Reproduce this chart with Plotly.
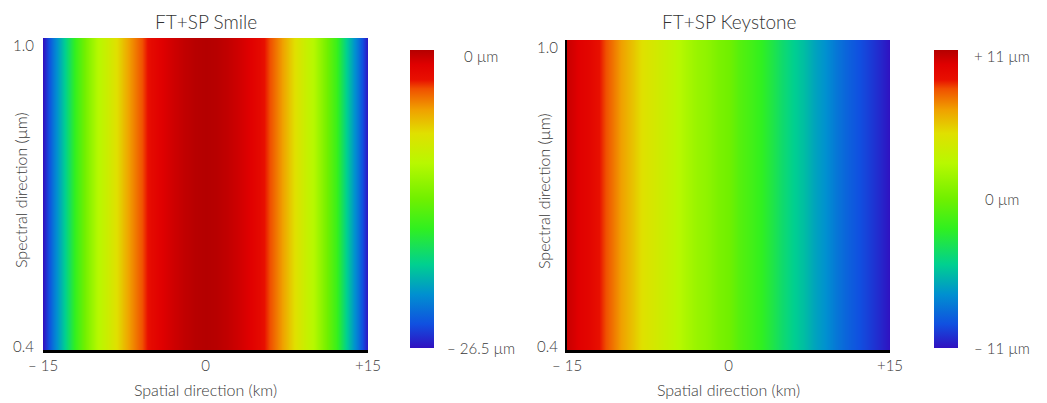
import plotly.graph_objects as go

# ---- data ----
spatial_km = [-15, -14, -13, -12, -11, -10, -9, -8, -7, -6, -5, -4, -3, -2, -1, 0,
              1, 2, 3, 4, 5, 6, 7, 8, 9, 10, 11, 12, 13, 14, 15]
spectral_um = [0.4, 1.0]

smile_um = [-26.5, -22.5, -19.0, -15.4, -12.8, -10.3, -8.7, -7.0, -5.1, -3.6, -2.1, -1.3,
            -0.8, -0.4, -0.1, 0.0, -0.1, -0.4, -0.8, -1.3, -2.1, -3.6, -5.1, -7.0, -8.7,
            -10.3, -12.8, -15.4, -19.0, -22.5, -26.5]
keystone_um = [10.5, 9.9, 9.5, 8.8, 7.7, 6.6, 5.7, 4.8, 4.2, 3.5, 2.9, 2.2, 1.5, 1.1, 0.4,
               0.0, -0.9, -1.5, -2.2, -3.1, -4.0, -4.8, -5.5, -6.4, -7.0, -7.9, -8.6, -9.2,
               -9.7, -10.3, -11.0]

smile_range = [-26.5, 0.0]
smile_ticks = [0.0, -26.5]
smile_ticktext = ["0 µm", "– 26.5 µm"]
key_range = [-11.0, 11.0]
key_ticks = [11.0, 0.0, -11.0]
key_ticktext = ["+ 11 µm", "0 µm", "– 11 µm"]

x_ticks = [-15, 0, 15]
x_ticktext = ["– 15", "0", "+15"]
y_ticks = [0.4, 1.0]
y_ticktext = ["0.4", "1.0"]

titles = ["FT+SP Smile", "FT+SP Keystone"]
x_title = "Spatial direction (km)"
y_title = "Spectral direction (µm)"

# ---- style ----
W, H = 1047, 403
FONT = "Lato"
WEIGHT = 300
TXT = "#3a3a3a"
colorscale = [
    [0.00, "#3010c0"], [0.08, "#1050e0"], [0.18, "#0090d0"], [0.28, "#00d090"],
    [0.40, "#30f020"], [0.50, "#70f000"], [0.62, "#b8f800"], [0.72, "#e0e000"],
    [0.80, "#f0a000"], [0.87, "#f05000"], [0.90, "#e81000"], [0.95, "#e00000"],
    [1.00, "#b40000"],
]

def px_x(p):
    return p / W

def px_y(p):
    return 1 - p / H

# plot area pixel boxes (x0, x1, ytop, ybottom)
left_box = (43, 368, 38, 350)
right_box = (567, 890, 40, 350)
cb_left_x, cb_right_x = 410, 934
cb_top, cb_bot = 50, 348

fig = go.Figure()

def add_panel(idx, z_profile, zr, cbx):
    xa = "x" if idx == 1 else "x2"
    ya = "y" if idx == 1 else "y2"
    fig.add_trace(go.Heatmap(
        x=spatial_km, y=spectral_um, z=[z_profile, z_profile],
        zmin=zr[0], zmax=zr[1], colorscale=colorscale, zsmooth="best",
        xaxis=xa, yaxis=ya, hoverinfo="skip",
        colorbar=dict(
            x=px_x(cbx), xanchor="left", xref="paper", xpad=0, ypad=0,
            y=px_y((cb_top + cb_bot) / 2), yanchor="middle",
            lenmode="pixels", len=cb_bot - cb_top,
            thickness=24, thicknessmode="pixels",
            outlinewidth=0, showticklabels=False, ticks="",
        ),
    ))

add_panel(1, smile_um, smile_range, cb_left_x)
add_panel(2, keystone_um, key_range, cb_right_x)

tickfont = dict(family=FONT, size=15, color=TXT, weight=WEIGHT)
titlefont = dict(family=FONT, size=16, color=TXT, weight=WEIGHT)

def set_axes(idx, box, yline):
    x0, x1, y0, y1 = box
    xk = "xaxis" if idx == 1 else "xaxis2"
    yk = "yaxis" if idx == 1 else "yaxis2"
    anchor_x = "y" if idx == 1 else "y2"
    anchor_y = "x" if idx == 1 else "x2"
    fig.update_layout(**{
        xk: dict(domain=[px_x(x0), px_x(x1)], anchor=anchor_x,
                 range=[-15, 15], tickvals=x_ticks, ticktext=x_ticktext,
                 tickfont=tickfont, ticks="", showgrid=False, zeroline=False,
                 showline=True, linecolor="black", linewidth=2.5,
                 title=dict(text=x_title, standoff=13, font=titlefont)),
        yk: dict(domain=[px_y(y1), px_y(y0)], anchor=anchor_y,
                 range=[0.4, 1.0], tickvals=y_ticks, showticklabels=False,
                 ticks="", showgrid=False, zeroline=False,
                 showline=yline, linecolor="black", linewidth=1.5),
    })

set_axes(1, left_box, False)
set_axes(2, right_box, True)

annotations = []
for i, (t, box) in enumerate(zip(titles, [left_box, right_box])):
    yref = "y" if i == 0 else "y2"
    # subplot title
    annotations.append(dict(
        text=t, x=px_x((box[0] + box[1]) / 2), y=px_y(22), xref="paper", yref="paper",
        xanchor="center", yanchor="middle", showarrow=False,
        font=dict(family=FONT, size=19, color="#333333", weight=WEIGHT)))
    # y tick labels (inset from the plot corners)
    for v, tx in zip(y_ticks, y_ticktext):
        annotations.append(dict(
            text=tx, x=px_x(box[0] - 7), y=v, xref="paper", yref=yref,
            xanchor="right", yanchor="middle", yshift=(4 if v == min(y_ticks) else -7),
            showarrow=False, font=tickfont))
    # y axis title
    annotations.append(dict(
        text=y_title, x=px_x(box[0] - 23), y=px_y((box[2] + box[3]) / 2 - 4),
        xref="paper", yref="paper", xanchor="center", yanchor="middle",
        textangle=-90, showarrow=False, font=titlefont))

def cb_label_y(v, zr):
    t = (v - zr[0]) / (zr[1] - zr[0])
    p = cb_bot - t * (cb_bot - cb_top)
    p = min(max(p, cb_top + 6), cb_bot)
    return px_y(p)

for vals, texts, zr, cx in [(smile_ticks, smile_ticktext, smile_range, 481),
                            (key_ticks, key_ticktext, key_range, 1002)]:
    for v, tx in zip(vals, texts):
        annotations.append(dict(
            text=tx, x=px_x(cx), y=cb_label_y(v, zr), xref="paper", yref="paper",
            xanchor="center", yanchor="middle", showarrow=False, font=tickfont))

fig.update_layout(
    width=W, height=H, margin=dict(l=0, r=0, t=0, b=0, autoexpand=False),
    paper_bgcolor="white", plot_bgcolor="white",
    annotations=annotations, showlegend=False,
)

fig.write_html("out.html")
